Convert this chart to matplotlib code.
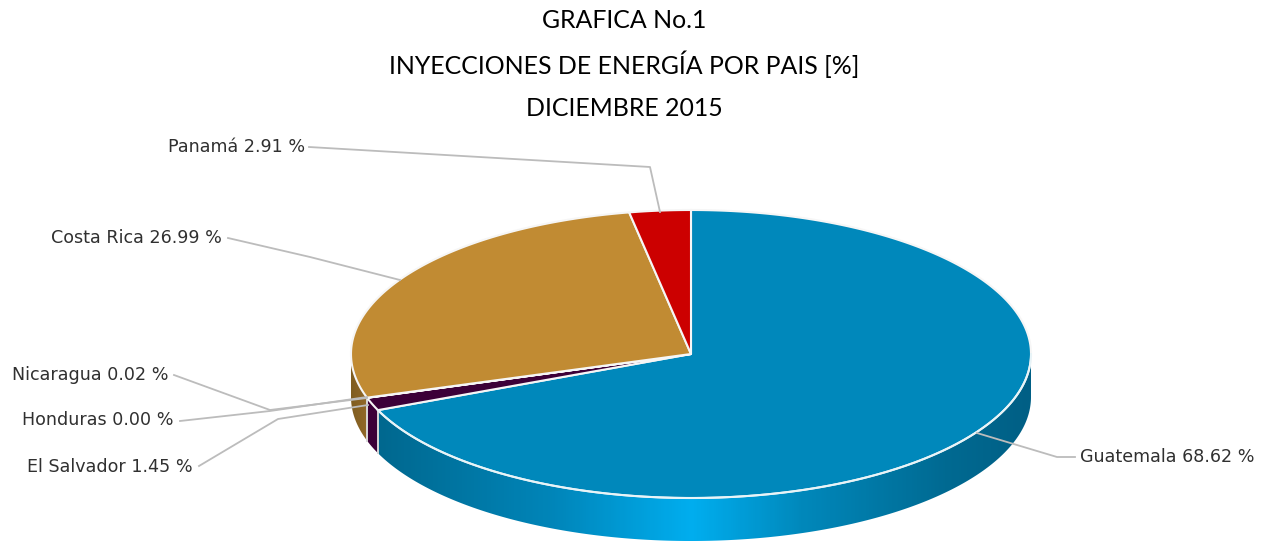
import numpy as np
import matplotlib
matplotlib.use('Agg')
import matplotlib.pyplot as plt
from matplotlib.colors import LinearSegmentedColormap
from matplotlib.patches import Polygon

# data, clockwise from 12 o'clock
paises = ['Guatemala', 'El Salvador', 'Honduras', 'Nicaragua', 'Costa Rica', 'Panamá']
valores = [68.62, 1.45, 0.00, 0.02, 26.99, 2.91]
colores = ['#0088bb', '#3c0038', '#3c0038', '#3c0038', '#c18b33', '#cc0000']
titulos = ['GRAFICA No.1', 'INYECCIONES DE ENERGÍA POR PAIS [%]', 'DICIEMBRE 2015']

# pie geometry in pixels
cx, cy = 691, 354
rx, ry = 340, 144
prof = 43


def borde(a1, a2, dy=0):
    t = np.radians(np.linspace(a1, a2, max(int(abs(a2 - a1) * 2), 2)))
    return np.column_stack([cx + rx * np.sin(t), cy - ry * np.cos(t) + dy])


fig = plt.figure(figsize=(12.65, 5.42), dpi=100)
ax = fig.add_axes([0, 0, 1, 1])
ax.set_xlim(0, 1265)
ax.set_ylim(542, 0)
ax.axis('off')

# titles
for y, t in zip([20, 64, 108], titulos):
    ax.text(624, y, t, ha='center', va='center', fontsize=17.9, family='Lato', color='black')

acum = np.cumsum([0] + valores) / sum(valores) * 360

# side walls with horizontal gradient
lado_azul = LinearSegmentedColormap.from_list('a', [(0, '#00688f'), (0.27, '#0086ba'), (0.48, '#00aeef'),
                                                    (0.65, '#0088bb'), (0.87, '#006a92'), (1, '#005f85')])
lado_cafe = LinearSegmentedColormap.from_list('c', ['#7f5d20', '#93692a'])


def pared(a1, a2, cmap=None, color=None):
    arriba = borde(a1, a2)
    abajo = borde(a1, a2, prof)[::-1]
    pts = np.vstack([arriba, abajo])
    if cmap is None:
        ax.add_patch(Polygon(pts, closed=True, fc=color, ec='none', zorder=2))
        return
    x0, x1 = pts[:, 0].min(), pts[:, 0].max()
    y0, y1 = pts[:, 1].min(), pts[:, 1].max()
    im = ax.imshow(np.linspace(0, 1, 300).reshape(1, -1), cmap=cmap, extent=[x0, x1, y1, y0],
                   aspect='auto', zorder=2)
    im.set_clip_path(Polygon(pts, closed=True, transform=ax.transData))


pared(90, acum[1], cmap=lado_azul)
pared(acum[1], acum[2], color='#3c0038')
pared(acum[4], 270, cmap=lado_cafe)
ax.set_xlim(0, 1265)
ax.set_ylim(542, 0)

# white seams on the walls
for a in [acum[1], acum[2]]:
    p = borde(a, a + 0.01)[0]
    ax.plot([p[0], p[0]], [p[1], p[1] + prof], color='#d8d8d8', lw=1.4, zorder=3)
ax.plot(*borde(90, acum[1]).T, color='#e8f4f8', lw=1.4, zorder=5)

# top faces
for i in range(len(valores)):
    if valores[i] < 0.01:
        continue
    pts = np.vstack([[cx, cy], borde(acum[i], acum[i + 1])])
    ax.add_patch(Polygon(pts, closed=True, fc=colores[i], ec='#f6f6f6', lw=1.5, joinstyle='round', zorder=4))

# leader lines and labels
gris = '#bcbcbc'
guias = {
    'Guatemala': [(1075, 457), (1057, 457), (977, 433)],
    'El Salvador': [(199, 466), (278, 419), (368, 405)],
    'Honduras': [(180, 421), (270, 411), (367, 397)],
    'Nicaragua': [(174, 375), (270, 410), (367, 398)],
    'Costa Rica': [(228, 238), (310, 257), (400, 280)],
    'Panamá': [(309, 147), (650, 167), (660, 212)],
}
etiquetas = {
    'Guatemala': (1080, 457, 'left'),
    'El Salvador': (193, 467, 'right'),
    'Honduras': (174, 420, 'right'),
    'Nicaragua': (168, 375, 'right'),
    'Costa Rica': (222, 238, 'right'),
    'Panamá': (305, 147, 'right'),
}
for p, v in zip(paises, valores):
    g = np.array(guias[p])
    ax.plot(g[:, 0], g[:, 1], color=gris, lw=1.3, zorder=6)
    x, y, ha = etiquetas[p]
    ax.text(x, y, f'{p} {v:.2f} %', ha=ha, va='center', fontsize=12.6, family='DejaVu Sans',
            color='#303030', zorder=7)

fig.savefig('out.png', dpi=100)
